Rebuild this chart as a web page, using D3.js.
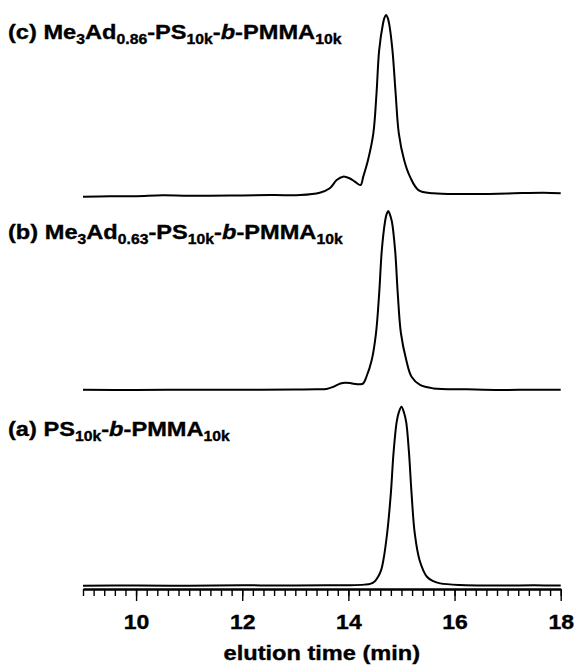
<!DOCTYPE html>
<html>
<head>
<meta charset="utf-8">
<script src="https://cdn.jsdelivr.net/npm/d3@7"></script>
<style>
  body { margin: 0; background: #fff; }
  svg { display: block; }
  text { font-family: "Liberation Sans", Arial, sans-serif; font-weight: bold; fill: #000; stroke: #000; stroke-width: 0.35px; }
</style>
</head>
<body>
<svg id="drawing_region"></svg>
<script>

// elution time (min) / normalized detector signal
const timeA = [9.0, 10.0, 11.0, 12.0, 13.0, 13.6, 14.03, 14.30, 14.41, 14.50, 14.56, 14.62, 14.66, 14.73, 14.80, 14.85, 14.91, 14.95, 15.0, 15.05, 15.09, 15.14, 15.19, 15.25, 15.34, 15.48, 15.60, 15.73, 16.10, 16.86, 17.5, 18.0];
const sigA  = [0.0, 0.1, 0.0, 0.2, 0.1, 0.2, 0.3, 0.6, 1.0, 2.5, 5.0, 9.0, 14.4, 29.3, 51.6, 74.0, 91.5, 96.8, 100, 96.5, 91.2, 75.0, 51.6, 29.3, 14.4, 5.0, 2.5, 1.3, 0.4, 0.1, 0.2, 0.1];

const timeB = [9.0, 10.0, 11.0, 12.0, 13.0, 13.4, 13.59, 13.72, 13.85, 13.94, 14.05, 14.15, 14.22, 14.28, 14.34, 14.44, 14.52, 14.58, 14.63, 14.69, 14.72, 14.75, 14.78, 14.82, 14.88, 14.93, 14.99, 15.09, 15.19, 15.35, 15.60, 16.23, 16.86, 17.5, 18.0];
const sigB  = [0.1, 0.0, 0.2, 0.1, 0.3, 0.4, 0.6, 1.8, 3.6, 4.1, 3.8, 3.3, 3.2, 3.7, 7.4, 16.8, 31.7, 54.0, 78.2, 94.0, 98.3, 100, 98.3, 94.0, 78.2, 54.0, 31.7, 16.8, 7.4, 2.8, 0.9, 0.4, 0.0, 0.2, 0.1];

const timeC = [9.0, 9.5, 10.0, 10.5, 11.0, 12.0, 12.6, 13.09, 13.46, 13.65, 13.78, 13.90, 14.02, 14.12, 14.23, 14.28, 14.37, 14.47, 14.53, 14.58, 14.65, 14.68, 14.71, 14.74, 14.77, 14.83, 14.89, 14.95, 15.05, 15.16, 15.32, 15.60, 16.23, 17.0, 17.67, 18.0];
const sigC  = [-1.5, -1.3, -1.2, -0.7, -1.0, -0.8, -0.6, -0.6, 0.7, 3.2, 7.8, 9.7, 8.8, 6.9, 5.0, 9.7, 19.0, 33.9, 56.3, 80.4, 94.8, 98.5, 100, 98.5, 94.8, 80.4, 56.3, 33.9, 19.0, 9.7, 2.2, 0.4, 0.0, 0.3, 0.7, 0.4];

const majorTicks = [10, 12, 14, 16, 18];
const axisTitle = "elution time (min)";

// label pieces: [text, kind]  kind: n = normal, s = subscript, i = italic
const labelC = [["(c) Me", "n"], ["3", "s"], ["Ad", "n"], ["0.86", "s"], ["-PS", "n"], ["10k", "s"], ["-", "n"], ["b", "i"], ["-PMMA", "n"], ["10k", "s"]];
const labelB = [["(b) Me", "n"], ["3", "s"], ["Ad", "n"], ["0.63", "s"], ["-PS", "n"], ["10k", "s"], ["-", "n"], ["b", "i"], ["-PMMA", "n"], ["10k", "s"]];
const labelA = [["(a) PS", "n"], ["10k", "s"], ["-", "n"], ["b", "i"], ["-PMMA", "n"], ["10k", "s"]];

const config = {
    width: 575,
    height: 666,
    x0: 83, x1: 560.7,
    axisY: 589,
    peakPx: 179
};

const traces = [
    { t: timeC, s: sigC, base: 194,   label: labelC, labelY: 39 },
    { t: timeB, s: sigB, base: 390,   label: labelB, labelY: 239 },
    { t: timeA, s: sigA, base: 585.7, label: labelA, labelY: 436 }
];

const svg = d3.select('#drawing_region')
    .attr('width', config.width)
    .attr('height', config.height);

const xscale = d3.scaleLinear()
    .domain([9, 18])
    .range([config.x0, config.x1]);

traces.forEach(tr => {
    const yscale = d3.scaleLinear()
        .domain([0, 100])
        .range([tr.base, tr.base - config.peakPx]);

    const pts = tr.t.map((t, i) => [t, tr.s[i]]);

    const line = d3.line()
        .x(d => xscale(d[0]))
        .y(d => yscale(d[1]))
        .curve(d3.curveCatmullRom.alpha(0.5));

    svg.append('path')
        .datum(pts)
        .attr('d', line)
        .attr('fill', 'none')
        .attr('stroke', '#000')
        .attr('stroke-width', 2)
        .attr('stroke-linejoin', 'round');

    const txt = svg.append('text')
        .attr('transform', `translate(8, ${tr.labelY}) scale(1.125, 1)`)
        .attr('font-size', 21);

    let shifted = false;
    tr.label.forEach(p => {
        const ts = txt.append('tspan').text(p[0]);
        if (p[1] === 's') {
            ts.attr('font-size', 14);
            if (!shifted) { ts.attr('dy', 5); shifted = true; }
        } else {
            if (shifted) { ts.attr('dy', -5); shifted = false; }
            if (p[1] === 'i') ts.attr('font-style', 'italic');
        }
    });
});

// minor ticks every 0.2 min
const minorAxis = d3.axisBottom(xscale)
    .tickValues(d3.range(90, 181, 2).map(v => v / 10))
    .tickSize(7)
    .tickSizeOuter(0)
    .tickFormat('');

const majorAxis = d3.axisBottom(xscale)
    .tickValues(majorTicks)
    .tickSize(12)
    .tickSizeOuter(0)
    .tickFormat(d3.format('d'));

const minorG = svg.append('g')
    .attr('transform', `translate(0, ${config.axisY})`)
    .call(minorAxis);

const majorG = svg.append('g')
    .attr('transform', `translate(0, ${config.axisY})`)
    .call(majorAxis);

[minorG, majorG].forEach(g => {
    g.select('.domain').attr('stroke', '#000').attr('stroke-width', 1.8);
    g.selectAll('.tick line').attr('stroke', '#000').attr('stroke-width', 1.4);
});

majorG.selectAll('.tick text')
    .attr('y', 0)
    .attr('dy', 0)
    .attr('transform', 'translate(0, 40) scale(1.15, 1)')
    .attr('font-size', 20)
    .attr('font-family', '"Liberation Sans", Arial, sans-serif')
    .attr('font-weight', 'bold')
    .attr('fill', '#000');

svg.append('text')
    .attr('transform', `translate(${(config.x0 + config.x1) / 2}, 660) scale(1.18, 1)`)
    .attr('text-anchor', 'middle')
    .attr('font-size', 20)
    .text(axisTitle);

</script>
</body>
</html>
